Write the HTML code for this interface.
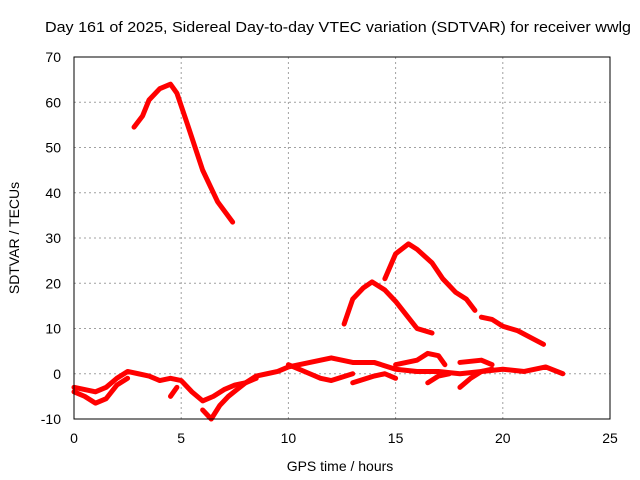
<!DOCTYPE html>
<html><head><meta charset="utf-8"><style>
body{margin:0;background:#fff}
svg{display:block;font-family:"Liberation Sans",sans-serif}
</style></head><body>
<svg id="chart" width="640" height="480" viewBox="0 0 640 480" xmlns="http://www.w3.org/2000/svg">
<text x="45" y="32" font-size="15" textLength="586" lengthAdjust="spacingAndGlyphs">Day 161 of 2025, Sidereal Day-to-day VTEC variation (SDTVAR) for receiver wwlg</text>
<g id="grid"></g>
<g id="series"></g>
<rect x="74" y="57" width="536" height="362" fill="none" stroke="#000" stroke-width="1"/>
<g id="ticks"></g>
<text x="340" y="471" font-size="14" text-anchor="middle">GPS time / hours</text>
<text x="0" y="0" font-size="14" text-anchor="middle" transform="translate(19,238) rotate(-90)">SDTVAR / TECUs</text>
</svg>
<script>
const xTicks=[0,5,10,15,20,25];
const yTicks=[-10,0,10,20,30,40,50,60,70];
const seriesA=[[2.8,54.5],[3.2,57],[3.5,60.5],[4,63],[4.5,64],[4.8,62],[5.3,55],[6,45],[6.7,38],[7.4,33.5]];
const seriesB=[[12.6,11],[13,16.5],[13.5,19],[13.9,20.3],[14.5,18.5],[15,16],[15.5,13],[16,10],[16.7,9]];
const seriesC=[[14.5,21],[15,26.5],[15.6,28.7],[16,27.5],[16.7,24.5],[17.2,21],[17.8,18],[18.3,16.5],[18.7,14]];
const seriesD=[[19,12.5],[19.5,12],[20,10.5],[20.7,9.5],[21.3,8],[21.9,6.5]];
const lowMain=[[0,-3],[0.5,-3.5],[1,-4],[1.5,-3],[2,-1],[2.5,0.5],[3,0],[3.5,-0.5],[4,-1.5],[4.5,-1],[5,-1.5],[5.5,-4],[6,-6],[6.5,-5],[7,-3.5],[7.5,-2.5],[8,-2],[8.5,-0.5],[9,0],[9.5,0.5],[10,1.5],[11,2.5],[11.5,3],[12,3.5],[12.5,3],[13,2.5],[14,2.5],[15,1],[16,0.5],[17,0.5],[18,0],[19,0.5],[20,1],[21,0.5],[22,1.5],[22.8,0]];
const low2=[[0,-4],[0.5,-5],[1,-6.5],[1.5,-5.5],[2,-2.5],[2.5,-1]];
const low3=[[6,-8],[6.4,-10],[6.8,-7],[7.2,-5],[7.6,-3.5],[8,-2],[8.5,-1]];
const low4=[[10,2],[11,0],[11.5,-1],[12,-1.5],[13,0]];
const low5=[[13,-2],[14,-0.5],[14.5,0],[15,-1]];
const low6=[[15,2],[16,3],[16.5,4.5],[17,4],[17.3,2]];
const low7=[[16.5,-2],[17,-0.5],[17.5,0]];
const low8=[[18,-3],[18.5,-1],[19,0.5],[19.5,1]];
const low9=[[18,2.5],[19,3],[19.5,2]];
const low10=[[4.5,-5],[4.8,-3]];
const allSeries=[seriesA,seriesB,seriesC,seriesD,lowMain,low2,low3,low4,low5,low6,low7,low8,low9,low10];
const NS="http://www.w3.org/2000/svg";
function X(h){return 74+h*536/25;}
function Y(v){return 57+(70-v)*362/80;}
const grid=document.getElementById('grid'),ticks=document.getElementById('ticks'),ser=document.getElementById('series');
xTicks.forEach(t=>{
 if(t>0&&t<25){const l=document.createElementNS(NS,'line');
 
 
 l.setAttribute('x1',X(t));l.setAttribute('x2',X(t));l.setAttribute('y1',57);l.setAttribute('y2',419);
 l.setAttribute('stroke','#a0a0a0');l.setAttribute('stroke-dasharray','2,3');grid.appendChild(l);}
 const tx=document.createElementNS(NS,'text');
 
 
 tx.setAttribute('x',X(t));tx.setAttribute('y',443);tx.setAttribute('font-size','14');tx.setAttribute('text-anchor','middle');
 tx.textContent=t;ticks.appendChild(tx);
});
yTicks.forEach(t=>{
 if(t>-10&&t<70){const l=document.createElementNS(NS,'line');
 
 
 l.setAttribute('x1',74);l.setAttribute('x2',610);l.setAttribute('y1',Y(t));l.setAttribute('y2',Y(t));
 l.setAttribute('stroke','#a0a0a0');l.setAttribute('stroke-dasharray','2,3');grid.appendChild(l);}
 const tx=document.createElementNS(NS,'text');
 
 
 tx.setAttribute('x',61);tx.setAttribute('y',Y(t)+5);tx.setAttribute('font-size','14');tx.setAttribute('text-anchor','end');
 tx.textContent=t;ticks.appendChild(tx);
});
allSeries.forEach(s=>{
 const p=document.createElementNS(NS,'polyline');
 
 
 p.setAttribute('points',s.map(d=>X(d[0])+','+Y(d[1])).join(' '));
 p.setAttribute('fill','none');p.setAttribute('stroke','#ff0000');p.setAttribute('stroke-width','5');
 p.setAttribute('stroke-linejoin','round');p.setAttribute('stroke-linecap','round');
 ser.appendChild(p);
});
</script>
</body></html>
